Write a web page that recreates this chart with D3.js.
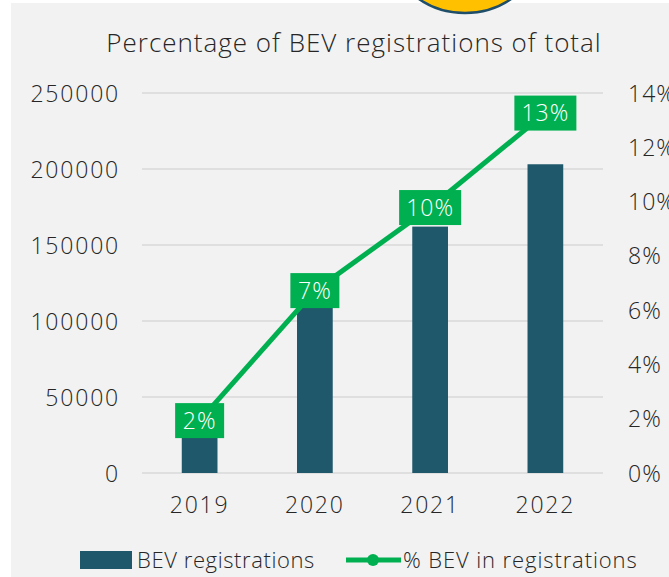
<!DOCTYPE html>
<html>
<head>
<meta charset="utf-8">
<title>BEV registrations</title>
<script src="https://cdn.jsdelivr.net/npm/d3@7"></script>
<style>
    body { margin: 0; background: #fff; }
    text { font-family: "Open Sans", "DejaVu Sans", sans-serif; font-weight: 300; fill: #262626; }
</style>
</head>
<body>
<svg width="669" height="577"></svg>
<script>
// data
var years = ['2019', '2020', '2021', '2022'];
var bevRegs = [42763, 110916, 162106, 203122];
var bevShare = [0.0193, 0.0672, 0.0978, 0.1326];
var shareLabels = ['2%', '7%', '10%', '13%'];
var leftTicks = [0, 50000, 100000, 150000, 200000, 250000];
var rightTicks = [0, 0.02, 0.04, 0.06, 0.08, 0.10, 0.12, 0.14];

var svg = d3.select('svg');
var W = 669, H = 577;
var barColor = '#1f586b', lineColor = '#00b050';

// panel
svg.append('rect').attr('x', 11).attr('y', 3).attr('width', W - 11).attr('height', H - 3).attr('fill', '#f2f2f2');

// yellow badge sticking in from the top
svg.append('ellipse')
    .attr('cx', 465).attr('cy', -60).attr('rx', 78).attr('ry', 73)
    .attr('fill', '#ffc000').attr('stroke', '#1f4e6a').attr('stroke-width', 2.5);

var x = d3.scaleBand().domain(years).range([142, 603]).padding(0);
var yL = d3.scaleLinear().domain([0, 250000]).range([473, 93]);
var yR = d3.scaleLinear().domain([0, 0.14]).range([473, 93]);

// gridlines
svg.append('g').selectAll('line').data(leftTicks).join('line')
    .attr('x1', 142).attr('x2', 603)
    .attr('y1', function(d) { return yL(d); }).attr('y2', function(d) { return yL(d); })
    .attr('stroke', '#d9d9d9').attr('stroke-width', 1.5);

// left axis
var axL = svg.append('g').attr('transform', 'translate(130,0)')
    .call(d3.axisLeft(yL).tickValues(leftTicks).tickSize(0).tickPadding(10).tickFormat(d3.format('d')));
axL.select('.domain').remove();
axL.selectAll('text').style('font-size', '23px').style('letter-spacing', '1.8px').attr('dy', '0.35em');

// right axis
var axR = svg.append('g').attr('transform', 'translate(618,0)')
    .call(d3.axisRight(yR).tickValues(rightTicks).tickSize(0).tickPadding(10).tickFormat(d3.format('.0%')));
axR.select('.domain').remove();
axR.selectAll('text').style('font-size', '23px').style('letter-spacing', '1px').attr('dy', '0.35em');

// x axis
var axX = svg.append('g').attr('transform', 'translate(0,473)')
    .call(d3.axisBottom(x).tickSize(0).tickPadding(24));
axX.select('.domain').remove();
axX.selectAll('text').style('font-size', '23px').style('letter-spacing', '1.8px');

// bars
var bw = x.bandwidth() * 0.31;
svg.append('g').selectAll('rect').data(bevRegs).join('rect')
    .attr('x', function(d, i) { return x(years[i]) + x.bandwidth() / 2 - bw / 2; })
    .attr('y', function(d) { return yL(d); })
    .attr('width', bw)
    .attr('height', function(d) { return yL(0) - yL(d); })
    .attr('fill', barColor);

// share line
var line = d3.line()
    .x(function(d, i) { return x(years[i]) + x.bandwidth() / 2; })
    .y(function(d) { return yR(d); });
svg.append('path').datum(bevShare).attr('d', line)
    .attr('fill', 'none').attr('stroke', lineColor).attr('stroke-width', 5);

// data labels in green boxes
var lab = svg.append('g').selectAll('g').data(bevShare).join('g')
    .attr('transform', function(d, i) {
        return 'translate(' + (x(years[i]) + x.bandwidth() / 2) + ',' + yR(d) + ')';
    });
lab.append('rect')
    .attr('x', function(d, i) { return shareLabels[i].length > 2 ? -31 : -24.5; })
    .attr('y', -17.5)
    .attr('width', function(d, i) { return shareLabels[i].length > 2 ? 62 : 49; })
    .attr('height', 35)
    .attr('fill', lineColor);
lab.append('text')
    .attr('text-anchor', 'middle').attr('dy', '0.35em')
    .style('font-size', '23px').style('fill', '#fff').style('letter-spacing', '1px')
    .text(function(d, i) { return shareLabels[i]; });

// title
svg.append('text').attr('x', 354).attr('y', 52).attr('text-anchor', 'middle')
    .style('font-size', '26px').style('letter-spacing', '1px')
    .text('Percentage of BEV registrations of total');

// legend
var lg = svg.append('g').attr('transform', 'translate(0,560)');
lg.append('rect').attr('x', 80).attr('y', -9).attr('width', 52).attr('height', 18).attr('fill', barColor);
lg.append('text').attr('x', 137).attr('dy', '0.35em').style('font-size', '22px').style('letter-spacing', '0.6px').text('BEV registrations');
lg.append('line').attr('x1', 346).attr('x2', 401).attr('stroke', lineColor).attr('stroke-width', 5);
lg.append('circle').attr('cx', 373).attr('r', 6).attr('fill', lineColor);
lg.append('text').attr('x', 403).attr('dy', '0.35em').style('font-size', '22px').style('letter-spacing', '0.9px').text('% BEV in registrations');
</script>
</body>
</html>
